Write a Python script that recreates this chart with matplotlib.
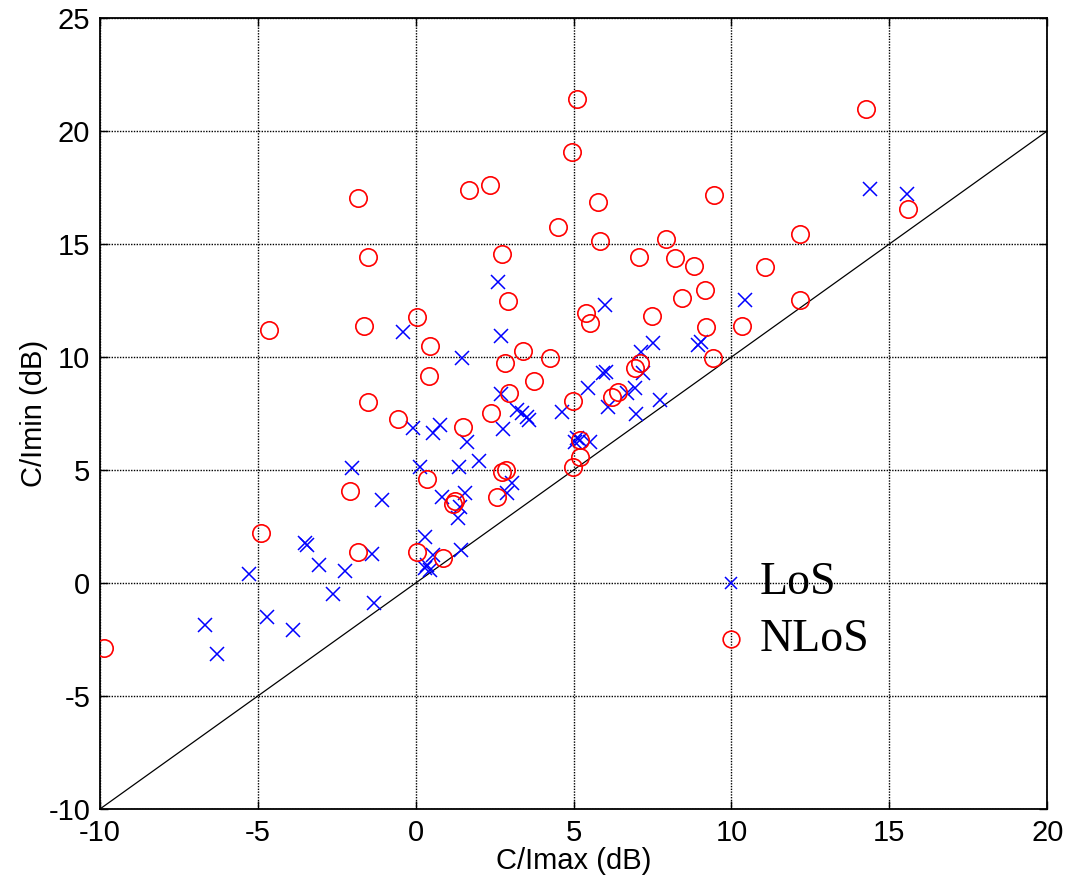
import numpy as np
import matplotlib
matplotlib.use("Agg")
import matplotlib.pyplot as plt

# C/I values in dB
los_cimax = [-6.67, -6.30, -5.27, -4.72, -3.90, -3.51, -3.45, -3.06, -2.61, -2.24,
             -2.02, -1.39, -1.32, -1.07, -0.41, -0.08, 0.14, 0.29, 0.56, 0.35,
             0.45, 0.29, 0.56, 0.77, 0.82, 1.38, 1.40, 1.33, 1.43, 1.62,
             1.56, 1.46, 2.01, 2.62, 2.70, 2.70, 2.77, 2.88, 3.04, 3.20,
             3.36, 3.52, 3.60, 4.62, 5.10, 5.20, 5.05, 5.52, 5.47, 6.00,
             5.94, 6.03, 6.10, 6.68, 6.95, 6.97, 7.12, 7.21, 7.53, 7.74,
             8.95, 9.03, 10.43, 14.39, 15.55]
los_cimin = [-1.86, -3.14, 0.40, -1.49, -2.08, 1.76, 1.68, 0.80, -0.50, 0.53,
             5.10, 1.28, -0.87, 3.69, 11.12, 6.85, 5.15, 2.02, 1.24, 0.80,
             0.58, 0.65, 6.65, 6.99, 3.81, 5.15, 3.34, 2.86, 1.48, 6.25,
             3.99, 9.97, 5.40, 13.33, 10.93, 8.36, 6.81, 3.96, 4.43, 7.65,
             7.54, 7.36, 7.21, 7.57, 6.40, 6.33, 6.25, 6.25, 8.62, 12.30,
             9.28, 9.35, 7.77, 8.39, 8.61, 7.48, 10.23, 9.28, 10.60, 8.10,
             10.53, 10.68, 12.52, 17.42, 17.21]

nlos_cimax = [-9.87, -4.90, -4.65, -2.08, -1.84, -1.82, -1.64, -1.50, -1.50, -0.55,
              0.05, 0.03, 0.35, 0.45, 0.42, 0.86, 1.24, 1.17, 1.49, 1.70,
              2.35, 2.39, 2.57, 2.73, 2.72, 2.86, 2.82, 2.93, 2.96, 3.39,
              3.76, 4.25, 4.52, 4.94, 4.97, 4.97, 5.10, 5.20, 5.20, 5.39,
              5.52, 5.76, 5.84, 6.21, 6.42, 6.95, 7.10, 7.08, 7.49, 7.92,
              8.21, 8.42, 8.82, 9.16, 9.19, 9.41, 9.45, 10.33, 11.06, 12.16,
              12.17, 14.26, 15.60]
nlos_cimin = [-2.89, 2.23, 11.19, 4.07, 1.38, 17.04, 11.37, 14.44, 8.00, 7.24,
              11.78, 1.38, 4.60, 10.49, 9.17, 1.09, 3.63, 3.50, 6.88, 17.39,
              17.61, 7.54, 3.82, 14.56, 4.92, 5.00, 9.75, 12.48, 8.39, 10.27,
              8.94, 9.97, 15.77, 19.06, 8.05, 5.11, 21.40, 6.33, 5.56, 11.96,
              11.49, 16.87, 15.15, 8.24, 8.46, 9.50, 9.72, 14.43, 11.83, 15.20,
              14.39, 12.63, 14.04, 12.96, 11.31, 9.97, 17.15, 11.37, 14.00, 12.52,
              15.42, 20.97, 16.54]

labels = ["LoS", "NLoS"]
xlim = [-10, 20]
ylim = [-10, 25]

plt.rcParams['font.family'] = ['Liberation Sans', 'DejaVu Sans']
plt.rcParams['axes.unicode_minus'] = False

fig = plt.figure(figsize=(10.66, 8.82), dpi=100)
ax = fig.add_axes([0.0938, 0.0828, 0.8886, 0.8968])

ax.plot(los_cimax, los_cimin, 'x', color='#0000ff', ms=10, mew=1.1, zorder=3)
ax.plot(nlos_cimax, nlos_cimin, 'o', mfc='none', mec='#ff0000', ms=12.5, mew=1.2, zorder=3)

# y = x reference line
ref = np.array(xlim)
ax.plot(ref, ref, color='k', lw=0.9, zorder=2)

ax.set_xlim(xlim)
ax.set_ylim(ylim)
ax.set_xticks(np.arange(-10, 21, 5))
ax.set_yticks(np.arange(-10, 26, 5))
ax.grid(True, color='k', linestyle=(0, (1, 1)), linewidth=1.0)
ax.tick_params(direction='in', length=6, width=1, top=True, right=True,
               labelsize=21, pad=7)
for s in ax.spines.values():
    s.set_linewidth(1.3)

ax.set_xlabel("C/Imax (dB)", fontsize=21, labelpad=0)
ax.set_ylabel("C/Imin (dB)", fontsize=21, labelpad=0)

# hand-placed legend, as in the original
leg_x = 10
leg_y = [0, -2.5]
ax.plot(leg_x, leg_y[0], 'x', color='#0000ff', ms=8.5, mew=1.1)
ax.plot(leg_x, leg_y[1], 'o', mfc='none', mec='#ff0000', ms=12, mew=1.2)
for yy, lab in zip(leg_y, labels):
    ax.annotate(lab, (leg_x, yy), xytext=(20, -8), textcoords='offset points',
                fontsize=33, family='Liberation Serif', va='baseline', ha='left')

fig.savefig("out.png", dpi=100)
